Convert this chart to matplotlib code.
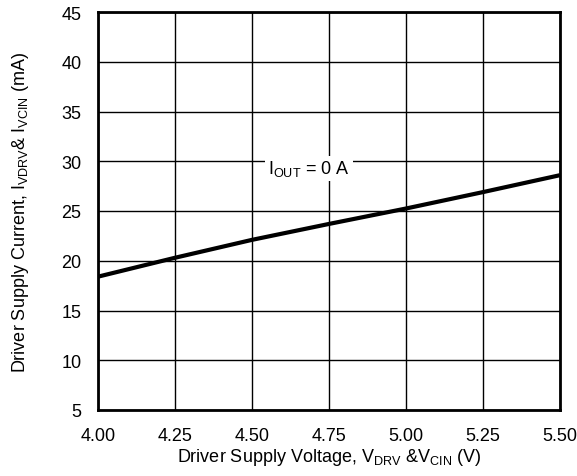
import matplotlib
matplotlib.use("Agg")
import matplotlib.pyplot as plt

voltage = [4.00, 4.25, 4.50, 4.75, 5.00, 5.25, 5.50]
current = [18.4, 20.3, 22.1, 23.7, 25.25, 26.9, 28.6]
xticks = [4.00, 4.25, 4.50, 4.75, 5.00, 5.25, 5.50]
xtick_labels = ["4.00", "4.25", "4.50", "4.75", "5.00", "5.25", "5.50"]
yticks = [5, 10, 15, 20, 25, 30, 35, 40, 45]

plt.rcParams['font.family'] = ['Liberation Sans', 'DejaVu Sans']
plt.rcParams['mathtext.fontset'] = 'custom'
plt.rcParams['mathtext.rm'] = 'Liberation Sans'
plt.rcParams['mathtext.it'] = 'Liberation Sans'

fs = 13
fig = plt.figure(figsize=(5.77, 4.77), dpi=100)
ax = fig.add_axes([98/577, 66/477, 462/577, 398/477])

ax.plot(voltage, current, color='black', linewidth=3, solid_capstyle='butt', zorder=3)
ax.set_xlim(4.0, 5.5)
ax.set_ylim(5, 45)
ax.set_xticks(xticks)
ax.set_xticklabels(xtick_labels)
ax.set_yticks(yticks)
ax.grid(True, color='black', linewidth=1)
ax.tick_params(length=0, labelsize=fs)
ax.tick_params(axis='x', pad=12)
ax.tick_params(axis='y', pad=12)
for s in ax.spines.values():
    s.set_linewidth(2)

ax.text(4.685, 29.3, r"I$_{\mathrm{OUT}}$ = 0 A", fontsize=fs, ha='center', va='center',
        bbox=dict(facecolor='white', edgecolor='none', pad=2), zorder=4)

ax.set_xlabel(r"Driver Supply Voltage, V$_{\mathrm{DRV}}$ &V$_{\mathrm{CIN}}$ (V)", fontsize=fs, labelpad=2)
ax.set_ylabel(r"Driver Supply Current, I$_{\mathrm{VDRV}}$& I$_{\mathrm{VCIN}}$ (mA)", fontsize=fs, labelpad=22)

fig.savefig("out.png", dpi=100)
